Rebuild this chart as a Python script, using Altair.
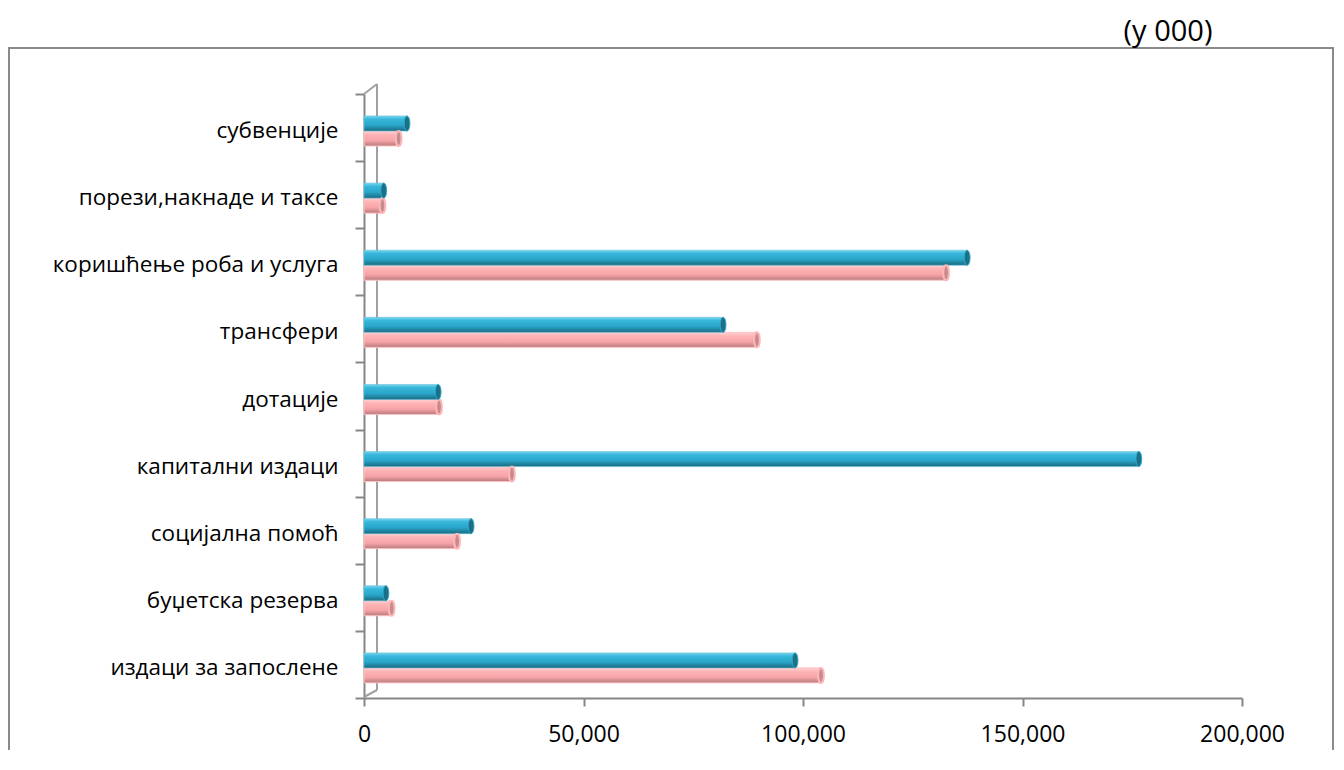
import altair as alt
import pandas as pd

categories = [
    "субвенције",
    "порези,накнаде и таксе",
    "коришћење роба и услуга",
    "трансфери",
    "дотације",
    "капитални издаци",
    "социјална помоћ",
    "буџетска резерва",
    "издаци за запослене",
]
series_names = ["Низ 1", "Низ 2"]  # blue (upper), pink (lower)
blue_values = [9800, 4500, 137400, 81800, 16900, 176500, 24400, 5000, 98200]
pink_values = [7900, 4200, 132600, 89500, 17100, 33700, 21200, 6300, 104100]
x_ticks = [0, 50000, 100000, 150000, 200000]
unit_label = "(у 000)"

rows = []
for c, b, p in zip(categories, blue_values, pink_values):
    rows.append({"cat": c, "series": series_names[0], "value": b})
    rows.append({"cat": c, "series": series_names[1], "value": p})
df = pd.DataFrame(rows)

W, H = 878, 604
AX = "#868686"
FONT = "Open Sans"
BAR_H = 15

y_enc = alt.Y(
    "cat:N",
    sort=categories,
    scale=alt.Scale(paddingInner=0, paddingOuter=0),
    axis=alt.Axis(
        title=None, grid=False, domainColor=AX, domainWidth=2,
        tickColor=AX, tickWidth=2, tickSize=9, tickBand="extent",
        labelFont=FONT, labelFontSize=22.5, labelColor="#000000",
        labelPadding=17, labelLimit=400, labelOffset=3,
    ),
)
x_enc = alt.X(
    "value:Q",
    scale=alt.Scale(domain=[0, 200000], nice=False, zero=True),
    axis=alt.Axis(
        title=None, grid=False, values=x_ticks, format=",.0f",
        domainColor=AX, domainWidth=2, tickColor=AX, tickWidth=2,
        tickSize=8, labelFont=FONT, labelFontSize=23, labelColor="#000000",
        labelPadding=17, labelFlush=False,
    ),
)

def grad(stops):
    return alt.Gradient(
        gradient="linear", x1=0, x2=0, y1=0, y2=1,
        stops=[alt.GradientStop(offset=o, color=c) for o, c in stops],
    )

blue_grad = grad([(0, "#7fd6ee"), (0.2, "#38b8db"), (0.6, "#29a6c9"), (1, "#1a6a80")])
pink_grad = grad([(0, "#ffd3d4"), (0.25, "#ffb3b5"), (0.65, "#f5a3a6"), (1, "#b57a7c")])

base = alt.Chart(df)
blue_data = base.transform_filter(alt.datum.series == series_names[0])
pink_data = base.transform_filter(alt.datum.series == series_names[1])
# offsets from the top of each category band to the centre of each bar
BLUE_OFF = 29.5
PINK_OFF = 44.5

bars_blue = blue_data.mark_bar(
    color=blue_grad, stroke="#5cc0dc", strokeWidth=0.6, height=BAR_H
).encode(x=x_enc, y=y_enc, yOffset=alt.value(BLUE_OFF))

bars_pink = pink_data.mark_bar(
    color=pink_grad, stroke="#ffc2c4", strokeWidth=1, height=BAR_H
).encode(x=x_enc, y=y_enc, yOffset=alt.value(PINK_OFF))

ELLIPSE = "M0,-1A0.38,1,0,1,1,0,1A0.38,1,0,1,1,0,-1Z"

caps_blue = blue_data.mark_point(
    shape=ELLIPSE, size=BAR_H * BAR_H, filled=True, fill="#1b6f86", stroke="#2fa9cb",
    strokeWidth=1, opacity=1,
).encode(x=x_enc, y=y_enc, yOffset=alt.value(BLUE_OFF))

caps_pink = pink_data.mark_point(
    shape=ELLIPSE, size=BAR_H * BAR_H, filled=True, fill="#c48a8c", stroke="#ffb6b8",
    strokeWidth=2, opacity=1,
).encode(x=x_enc, y=y_enc, yOffset=alt.value(PINK_OFF))

one = pd.DataFrame({"k": [0]})

frame = alt.Chart(one).mark_rect(fill="transparent", stroke="#8a8a8a", strokeWidth=2).encode(
    x=alt.value(-355), x2=alt.value(969), y=alt.value(-46), y2=alt.value(720)
)

wall_color = "#a0a0a0"
wall_v = alt.Chart(one).mark_rule(color=wall_color, strokeWidth=2).encode(
    x=alt.value(13), y=alt.value(-10), y2=alt.value(596)
)
wall_top = alt.Chart(one).mark_rule(color=wall_color, strokeWidth=2).encode(
    x=alt.value(0), x2=alt.value(13), y=alt.value(0), y2=alt.value(-10)
)
wall_bot = alt.Chart(one).mark_rule(color=wall_color, strokeWidth=2).encode(
    x=alt.value(0), x2=alt.value(13), y=alt.value(603), y2=alt.value(596)
)

unit = alt.Chart(pd.DataFrame({"t": [unit_label]})).mark_text(
    font=FONT, fontSize=29, color="#000000", align="center", baseline="middle"
).encode(x=alt.value(804), y=alt.value(-62), text="t:N")

chart = alt.layer(
    frame, wall_v, wall_top, wall_bot, bars_pink, bars_blue, caps_pink, caps_blue, unit
).properties(
    width=W, height=H,
    autosize=alt.AutoSizeParams(type="none"),
    padding={"left": 356, "top": 86, "right": 92, "bottom": 52},
).configure_view(stroke=None)

chart.save("out.html", embed_options={"renderer": "svg", "actions": False})
